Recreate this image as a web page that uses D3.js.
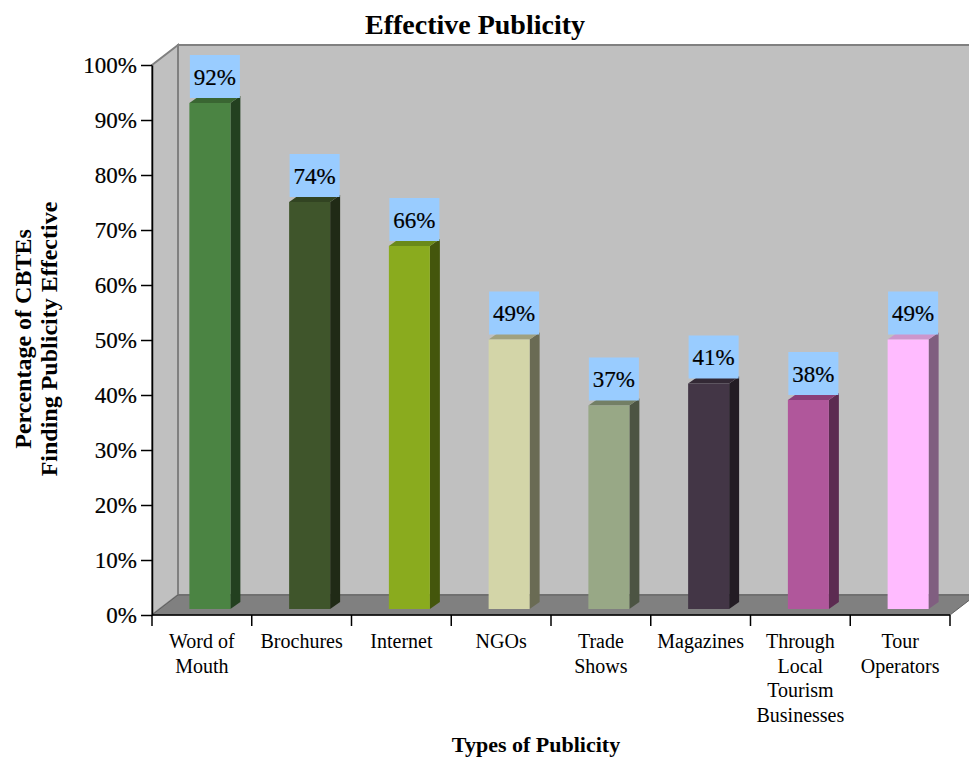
<!DOCTYPE html>
<html>
<head>
<meta charset="utf-8">
<script src="https://cdn.jsdelivr.net/npm/d3@7"></script>
<style>
  html, body { margin: 0; padding: 0; background: #ffffff; }
  svg { display: block; }
</style>
</head>
<body>
<script>
// Survey results: share of CBTEs that found each type of publicity effective
const categories = [
  ["Word of", "Mouth"],
  ["Brochures"],
  ["Internet"],
  ["NGOs"],
  ["Trade", "Shows"],
  ["Magazines"],
  ["Through", "Local", "Tourism", "Businesses"],
  ["Tour", "Operators"]
];
const values = [92, 74, 66, 49, 37, 41, 38, 49];
const yTicks = [0, 10, 20, 30, 40, 50, 60, 70, 80, 90, 100];

// Front, top and side shades for each column
const frontColors = ["#4b8443", "#3f552b", "#8aab1e", "#d3d5a8", "#98a886", "#433646", "#b0579b", "#ffbbff"];
const topColors   = ["#3a6632", "#324422", "#6a8a19", "#a0a180", "#737f65", "#332935", "#8a4079", "#cc96cc"];
const sideColors  = ["#234020", "#202a16", "#44560c", "#6a6b54", "#4c5443", "#231c24", "#5c2b51", "#805e80"];

const W = 969, H = 763;
const svg = d3.select("body").append("svg").attr("width", W).attr("height", H);

// Plot frame (front plane of the floor)
const plotLeft = 152, plotRight = 950, plotBottom = 615, plotTop = 65;
const depthX = 26, depthY = -20;       // wall depth offset
const barShiftX = 8, barShiftY = -6;   // columns stand a little behind the front edge
const barDX = 10, barDY = -7;          // column thickness
const barW = 41;

const x = d3.scaleBand().domain(d3.range(categories.length)).range([plotLeft, plotRight]).padding(0);
const y = d3.scaleLinear().domain([0, 100]).range([plotBottom, plotTop]);

const wallStroke = "#808080";
const serif = "'Liberation Serif', 'Times New Roman', serif";

// Back wall
svg.append("rect")
  .attr("x", plotLeft + depthX).attr("y", plotTop + depthY)
  .attr("width", W - plotLeft).attr("height", plotBottom - plotTop)
  .attr("fill", "#c0c0c0").attr("stroke", wallStroke).attr("stroke-width", 2);

// Side wall
svg.append("polygon")
  .attr("points", [[plotLeft, plotTop], [plotLeft + depthX, plotTop + depthY], [plotLeft + depthX, plotBottom + depthY], [plotLeft, plotBottom]].join(" "))
  .attr("fill", "#c0c0c0").attr("stroke", wallStroke).attr("stroke-width", 2);

// Floor
svg.append("polygon")
  .attr("points", [[plotLeft, plotBottom], [plotLeft + depthX, plotBottom + depthY], [plotRight + depthX, plotBottom + depthY], [plotRight, plotBottom]].join(" "))
  .attr("fill", "#808080").attr("stroke", "#606060").attr("stroke-width", 1);

// Columns
const bars = svg.append("g").selectAll("g").data(values).join("g");

const bx = (d, i) => x(i) + x.bandwidth() / 2 + barShiftX - barW / 2;
const by0 = y(0) + barShiftY;
const byv = d => y(d) + barShiftY;

bars.append("polygon") // side
  .attr("points", (d, i) => {
    const x1 = bx(d, i) + barW;
    return [[x1, byv(d)], [x1 + barDX, byv(d) + barDY], [x1 + barDX, by0 + barDY], [x1, by0]].join(" ");
  })
  .attr("fill", (d, i) => sideColors[i]);

bars.append("polygon") // top
  .attr("points", (d, i) => {
    const x0 = bx(d, i), yt = byv(d);
    return [[x0, yt], [x0 + barDX, yt + barDY], [x0 + barW + barDX, yt + barDY], [x0 + barW, yt]].join(" ");
  })
  .attr("fill", (d, i) => topColors[i]);

bars.append("rect") // front
  .attr("x", (d, i) => bx(d, i))
  .attr("y", d => byv(d))
  .attr("width", barW)
  .attr("height", d => by0 - byv(d))
  .attr("fill", (d, i) => frontColors[i]);

// Value labels on light blue boxes
const boxW = 50, boxH = 43;
const labels = svg.append("g").selectAll("g").data(values).join("g")
  .attr("transform", (d, i) => {
    const cx = bx(d, i) + barW / 2 + 5;
    const yb = byv(d) - 5;
    return `translate(${cx},${yb})`;
  });
labels.append("rect")
  .attr("x", -boxW / 2).attr("y", -boxH)
  .attr("width", boxW).attr("height", boxH)
  .attr("fill", "#99ccff");
labels.append("text")
  .attr("x", 0).attr("y", -boxH / 2 + 8)
  .attr("text-anchor", "middle")
  .attr("font-family", serif)
  .attr("font-size", 23)
  .attr("fill", "#000")
  .attr("stroke", "#000").attr("stroke-width", 0.2)
  .text(d => d + "%");

// Y axis
const yAxis = svg.append("g").attr("transform", `translate(${plotLeft},0)`)
  .call(d3.axisLeft(y).tickValues(yTicks).tickSize(11).tickSizeOuter(0).tickPadding(4).tickFormat(d => d + "%"));
yAxis.select(".domain").attr("stroke", "#000").attr("stroke-width", 1.5);
yAxis.selectAll(".tick line").attr("stroke", "#000").attr("stroke-width", 1.5);
yAxis.selectAll(".tick text")
  .attr("font-family", serif)
  .attr("font-size", 23)
  .attr("fill", "#000")
  .attr("stroke", "#000").attr("stroke-width", 0.2);

// X axis: baseline and category separators
const xAxis = svg.append("g");
xAxis.append("line")
  .attr("x1", plotLeft).attr("x2", plotRight).attr("y1", plotBottom).attr("y2", plotBottom)
  .attr("stroke", "#000").attr("stroke-width", 1.5);
xAxis.selectAll("line.sep").data(d3.range(categories.length + 1)).join("line")
  .attr("class", "sep")
  .attr("x1", i => i < categories.length ? x(i) : plotRight)
  .attr("x2", i => i < categories.length ? x(i) : plotRight)
  .attr("y1", plotBottom).attr("y2", plotBottom + 11)
  .attr("stroke", "#000").attr("stroke-width", 1.5);

// Category names
const catText = xAxis.selectAll("text.cat").data(categories).join("text")
  .attr("class", "cat")
  .attr("text-anchor", "middle")
  .attr("font-family", serif)
  .attr("font-size", 20)
  .attr("fill", "#000");
catText.selectAll("tspan").data((d, i) => d.map(s => ({ s, i }))).join("tspan")
  .attr("x", d => x(d.i) + x.bandwidth() / 2)
  .attr("y", (d, j) => 648 + j * 24.5)
  .text(d => d.s);

// Titles
svg.append("text")
  .attr("x", 475).attr("y", 34)
  .attr("text-anchor", "middle")
  .attr("font-family", serif)
  .attr("font-weight", "bold")
  .attr("font-size", 28)
  .text("Effective Publicity");

svg.append("text")
  .attr("x", 536).attr("y", 752)
  .attr("text-anchor", "middle")
  .attr("font-family", serif)
  .attr("font-weight", "bold")
  .attr("font-size", 22)
  .text("Types of Publicity");

const yTitle = svg.append("text")
  .attr("transform", "translate(0,339) rotate(-90)")
  .attr("text-anchor", "middle")
  .attr("font-family", serif)
  .attr("font-weight", "bold")
  .attr("font-size", 24);
yTitle.append("tspan").attr("x", 0).attr("y", 31).text("Percentage of CBTEs");
yTitle.append("tspan").attr("x", 0).attr("y", 57).text("Finding Publicity Effective");
</script>
</body>
</html>
